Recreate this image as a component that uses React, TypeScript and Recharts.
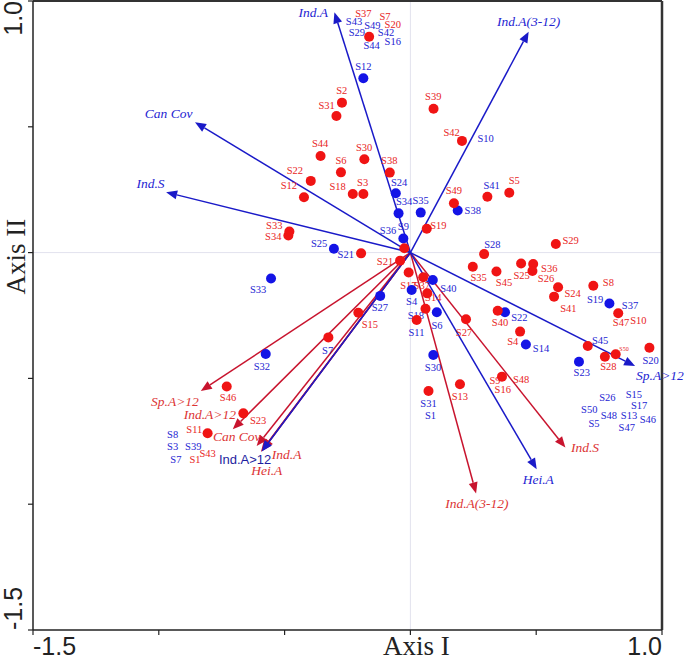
import React from "react";
import { ScatterChart, Scatter, XAxis, YAxis, ReferenceLine } from "recharts";

type Pt = { x: number; y: number };
type Lbl = { t: string; x: number; y: number };

const AXIS_TICKS = [-1.5, -1, -0.5, 0, 0.5, 1];

// biplot vectors (arrow tips, from origin)
const blueVectors: Lbl[] = [
  { t: "Ind.A", x: -0.302, y: 0.955 },
  { t: "Ind.A(3-12)", x: 0.47, y: 0.878 },
  { t: "Can Cov", x: -0.856, y: 0.518 },
  { t: "Ind.S", x: -0.971, y: 0.24 },
  { t: "Sp.A>12", x: 0.893, y: -0.451 },
  { t: "Hei.A", x: 0.502, y: -0.861 },
  { t: "Ind.A>12", x: -0.591, y: -0.791 },
];

const redVectors: Lbl[] = [
  { t: "Sp.A>12", x: -0.833, y: -0.55 },
  { t: "Ind.A>12", x: -0.706, y: -0.702 },
  { t: "Can Cov", x: -0.611, y: -0.769 },
  { t: "Ind.A", x: -0.587, y: -0.785 },
  { t: "Hei.A", x: -0.594, y: -0.792 },
  { t: "Ind.S", x: 0.616, y: -0.775 },
  { t: "Ind.A(3-12)", x: 0.261, y: -0.957 },
];

const blueVectorLabels: Lbl[] = [
  { t: "Ind.A", x: -0.386, y: 0.955 },
  { t: "Ind.A(3-12)", x: 0.47, y: 0.92 },
  { t: "Can Cov", x: -0.961, y: 0.554 },
  { t: "Ind.S", x: -1.033, y: 0.274 },
  { t: "Sp.A>12", x: 0.992, y: -0.486 },
  { t: "Hei.A", x: 0.508, y: -0.9 },
];
const plainBlueLabels: Lbl[] = [{ t: "Ind.A>12", x: -0.657, y: -0.822 }];

const redVectorLabels: Lbl[] = [
  { t: "Sp.A>12", x: -0.936, y: -0.592 },
  { t: "Ind.A>12", x: -0.797, y: -0.641 },
  { t: "Can Cov", x: -0.69, y: -0.732 },
  { t: "Ind.A", x: -0.492, y: -0.8 },
  { t: "Hei.A", x: -0.571, y: -0.864 },
  { t: "Ind.S", x: 0.694, y: -0.774 },
  { t: "Ind.A(3-12)", x: 0.264, y: -0.996 },
];

// site scores
const redSites: Pt[] = [
  { x: -0.164, y: 0.858 }, { x: -0.272, y: 0.596 }, { x: -0.294, y: 0.543 },
  { x: 0.092, y: 0.572 }, { x: 0.205, y: 0.444 }, { x: -0.357, y: 0.384 },
  { x: -0.183, y: 0.371 }, { x: -0.276, y: 0.319 }, { x: -0.082, y: 0.318 },
  { x: -0.396, y: 0.285 }, { x: -0.423, y: 0.22 }, { x: -0.229, y: 0.233 },
  { x: -0.187, y: 0.233 }, { x: -0.481, y: 0.084 }, { x: -0.485, y: 0.068 },
  { x: -0.196, y: -0.003 }, { x: 0.173, y: 0.196 }, { x: 0.306, y: 0.222 },
  { x: 0.393, y: 0.238 }, { x: 0.065, y: 0.095 }, { x: 0.578, y: 0.034 },
  { x: 0.293, y: -0.006 }, { x: 0.248, y: -0.056 }, { x: 0.342, y: -0.075 },
  { x: 0.44, y: -0.043 }, { x: 0.488, y: -0.045 }, { x: 0.485, y: -0.073 },
  { x: 0.587, y: -0.138 }, { x: 0.571, y: -0.175 }, { x: 0.727, y: -0.132 },
  { x: 0.826, y: -0.241 }, { x: 0.705, y: -0.371 }, { x: 0.773, y: -0.414 },
  { x: 0.816, y: -0.404 }, { x: 0.95, y: -0.378 }, { x: -0.024, y: 0.017 },
  { x: -0.041, y: -0.032 }, { x: -0.007, y: -0.079 }, { x: 0.051, y: -0.098 },
  { x: 0.067, y: -0.162 }, { x: 0.06, y: -0.223 }, { x: 0.025, y: -0.268 },
  { x: 0.221, y: -0.265 }, { x: 0.347, y: -0.231 }, { x: 0.436, y: -0.314 },
  { x: -0.207, y: -0.239 }, { x: -0.326, y: -0.337 }, { x: -0.73, y: -0.532 },
  { x: 0.072, y: -0.55 }, { x: 0.197, y: -0.523 }, { x: 0.364, y: -0.493 },
  { x: -0.664, y: -0.639 }, { x: -0.806, y: -0.718 },
];

const blueSites: Pt[] = [
  { x: -0.187, y: 0.693 }, { x: -0.058, y: 0.236 }, { x: -0.047, y: 0.156 },
  { x: 0.041, y: 0.159 }, { x: -0.028, y: 0.056 }, { x: 0.188, y: 0.167 },
  { x: -0.304, y: 0.015 }, { x: -0.554, y: -0.103 }, { x: -0.12, y: -0.172 },
  { x: 0.005, y: -0.149 }, { x: 0.089, y: -0.109 }, { x: 0.105, y: -0.237 },
  { x: 0.376, y: -0.237 }, { x: 0.459, y: -0.365 }, { x: 0.091, y: -0.407 },
  { x: -0.575, y: -0.403 }, { x: 0.791, y: -0.202 }, { x: 0.67, y: -0.434 },
];

const redSiteLabels: Lbl[] = [
  { t: "S37", x: -0.187, y: 0.951 }, { t: "S7", x: -0.101, y: 0.94 },
  { t: "S20", x: -0.07, y: 0.909 }, { t: "S2", x: -0.273, y: 0.646 },
  { t: "S31", x: -0.333, y: 0.587 }, { t: "S39", x: 0.091, y: 0.62 },
  { t: "S42", x: 0.164, y: 0.477 }, { t: "S44", x: -0.359, y: 0.434 },
  { t: "S30", x: -0.184, y: 0.419 }, { t: "S6", x: -0.276, y: 0.368 },
  { t: "S38", x: -0.084, y: 0.365 }, { t: "S22", x: -0.459, y: 0.326 },
  { t: "S12", x: -0.483, y: 0.269 }, { t: "S18", x: -0.289, y: 0.262 },
  { t: "S3", x: -0.19, y: 0.279 }, { t: "S5", x: 0.413, y: 0.289 },
  { t: "S49", x: 0.173, y: 0.249 }, { t: "S33", x: -0.541, y: 0.11 },
  { t: "S34", x: -0.545, y: 0.066 }, { t: "S19", x: 0.111, y: 0.109 },
  { t: "S29", x: 0.637, y: 0.047 }, { t: "S21", x: -0.101, y: -0.035 },
  { t: "S35", x: 0.271, y: -0.099 }, { t: "S45", x: 0.372, y: -0.12 },
  { t: "S25", x: 0.442, y: -0.089 }, { t: "S36", x: 0.552, y: -0.062 },
  { t: "S26", x: 0.539, y: -0.102 }, { t: "S8", x: 0.787, y: -0.118 },
  { t: "S24", x: 0.645, y: -0.162 }, { t: "S41", x: 0.628, y: -0.221 },
  { t: "S47", x: 0.837, y: -0.279 }, { t: "S10", x: 0.906, y: -0.268 },
  { t: "S28", x: 0.787, y: -0.451 }, { t: "S17", x: -0.008, y: -0.129 },
  { t: "S37", x: 0.045, y: -0.132 }, { t: "S14", x: 0.091, y: -0.178 },
  { t: "S15", x: -0.161, y: -0.285 }, { t: "S27", x: 0.213, y: -0.317 },
  { t: "S40", x: 0.356, y: -0.279 }, { t: "S4", x: 0.407, y: -0.354 },
  { t: "S9", x: 0.336, y: -0.506 }, { t: "S48", x: 0.44, y: -0.504 },
  { t: "S16", x: 0.367, y: -0.542 }, { t: "S13", x: 0.197, y: -0.572 },
  { t: "S46", x: -0.725, y: -0.574 }, { t: "S23", x: -0.605, y: -0.665 },
  { t: "S11", x: -0.859, y: -0.702 }, { t: "S43", x: -0.806, y: -0.798 },
  { t: "S1", x: -0.856, y: -0.822 },
];
const tinyRedLabels: Lbl[] = [{ t: "S50", x: 0.849, y: -0.384 }];

const blueSiteLabels: Lbl[] = [
  { t: "S43", x: -0.224, y: 0.918 }, { t: "S49", x: -0.151, y: 0.905 },
  { t: "S29", x: -0.213, y: 0.874 }, { t: "S42", x: -0.097, y: 0.876 },
  { t: "S44", x: -0.154, y: 0.825 }, { t: "S16", x: -0.07, y: 0.838 },
  { t: "S12", x: -0.187, y: 0.739 }, { t: "S10", x: 0.299, y: 0.454 },
  { t: "S41", x: 0.323, y: 0.269 }, { t: "S24", x: -0.045, y: 0.278 },
  { t: "S34", x: -0.025, y: 0.205 }, { t: "S35", x: 0.041, y: 0.206 },
  { t: "S38", x: 0.248, y: 0.169 }, { t: "S36", x: -0.089, y: 0.09 },
  { t: "S9", x: -0.028, y: 0.103 }, { t: "S28", x: 0.326, y: 0.034 },
  { t: "S25", x: -0.363, y: 0.037 }, { t: "S21", x: -0.257, y: -0.007 },
  { t: "S33", x: -0.605, y: -0.147 }, { t: "S40", x: 0.151, y: -0.142 },
  { t: "S4", x: 0.005, y: -0.194 }, { t: "S27", x: -0.121, y: -0.217 },
  { t: "S18", x: 0.022, y: -0.249 }, { t: "S6", x: 0.106, y: -0.288 },
  { t: "S11", x: 0.024, y: -0.316 }, { t: "S22", x: 0.433, y: -0.257 },
  { t: "S14", x: 0.519, y: -0.382 }, { t: "S7", x: -0.329, y: -0.387 },
  { t: "S32", x: -0.59, y: -0.453 }, { t: "S30", x: 0.09, y: -0.457 },
  { t: "S31", x: 0.072, y: -0.6 }, { t: "S1", x: 0.08, y: -0.647 },
  { t: "S19", x: 0.734, y: -0.186 }, { t: "S37", x: 0.873, y: -0.208 },
  { t: "S45", x: 0.754, y: -0.347 }, { t: "S20", x: 0.955, y: -0.427 },
  { t: "S23", x: 0.681, y: -0.477 }, { t: "S26", x: 0.783, y: -0.574 },
  { t: "S15", x: 0.888, y: -0.563 }, { t: "S50", x: 0.711, y: -0.622 },
  { t: "S17", x: 0.909, y: -0.606 }, { t: "S48", x: 0.789, y: -0.647 },
  { t: "S13", x: 0.869, y: -0.648 }, { t: "S46", x: 0.944, y: -0.661 },
  { t: "S5", x: 0.73, y: -0.68 }, { t: "S47", x: 0.86, y: -0.696 },
  { t: "S8", x: -0.945, y: -0.721 }, { t: "S3", x: -0.945, y: -0.769 },
  { t: "S39", x: -0.863, y: -0.769 }, { t: "S7", x: -0.932, y: -0.822 },
];

const RED_DOT = "#f01414";
const BLUE_DOT = "#1414e6";
const RED_TXT = "#e82424";
const BLUE_TXT = "#2424d2";
const RED_LINE = "#c8142e";
const BLUE_LINE = "#1a1ac8";
const SERIF = "'Liberation Serif', 'Times New Roman', serif";
const SANS = "'Liberation Sans', Arial, sans-serif";

const textShape = (fill: string, size: number, family: string, italic = false) =>
  (p: any) => (
    <text
      x={p.cx}
      y={p.cy}
      dy="0.35em"
      textAnchor="middle"
      fill={fill}
      fontSize={size}
      fontFamily={family}
      fontStyle={italic ? "italic" : "normal"}
    >
      {p.payload.t}
    </text>
  );

const dotShape = (fill: string) => (p: any) => <circle cx={p.cx} cy={p.cy} r={5} fill={fill} />;

const arrowShape = (color: string) => (p: any) => {
  const { x1, y1, x2, y2 } = p;
  const a = Math.atan2(y2 - y1, x2 - x1);
  const len = 11;
  const half = 4.5;
  const bx = x2 - len * Math.cos(a);
  const by = y2 - len * Math.sin(a);
  const s = Math.sin(a);
  const c = Math.cos(a);
  const pts = `${x2},${y2} ${bx + half * s},${by - half * c} ${bx - half * s},${by + half * c}`;
  return (
    <g>
      <line x1={x1} y1={y1} x2={bx} y2={by} stroke={color} strokeWidth={1.5} />
      <polygon points={pts} fill={color} />
    </g>
  );
};

// only the end values carry numbers; the title sits at the origin tick
const renderXTick = (p: any) => {
  const v = p.payload.value;
  if (v === -1.5)
    return <text x={p.x} y={655} textAnchor="start" fontSize={25} fontFamily={SANS} fill="#222">-1.5</text>;
  if (v === 1)
    return <text x={p.x} y={655} textAnchor="end" fontSize={25} fontFamily={SANS} fill="#222">1.0</text>;
  if (v === 0)
    return <text x={p.x + 6} y={655} textAnchor="middle" fontSize={27} fontFamily={SERIF} fill="#222">Axis I</text>;
  return <g />;
};

const renderYTick = (p: any) => {
  const v = p.payload.value;
  if (v === 1)
    return (
      <text transform={`translate(22,${p.y}) rotate(-90)`} textAnchor="end" fontSize={25} fontFamily={SANS} fill="#222">1.0</text>
    );
  if (v === -1.5)
    return (
      <text transform={`translate(22,${p.y}) rotate(-90)`} textAnchor="start" fontSize={25} fontFamily={SANS} fill="#222">-1.5</text>
    );
  if (v === 0)
    return (
      <text transform={`translate(25,${p.y + 4}) rotate(-90)`} textAnchor="middle" fontSize={27} fontFamily={SERIF} fill="#222">Axis II</text>
    );
  return <g />;
};

export default function App() {
  return (
    <div style={{ position: "absolute", left: 0, top: 0, background: "#fff" }}>
      <ScatterChart width={685} height={661} margin={{ top: 1, right: 23, bottom: 0, left: 0 }}>
        <XAxis
          type="number"
          dataKey="x"
          domain={[-1.5, 1]}
          ticks={AXIS_TICKS}
          interval={0}
          height={31}
          tick={renderXTick}
          tickSize={5}
          tickLine={{ stroke: "#222", strokeWidth: 1.2 }}
          axisLine={{ stroke: "#222", strokeWidth: 1.5 }}
        />
        <YAxis
          type="number"
          dataKey="y"
          domain={[-1.5, 1]}
          ticks={AXIS_TICKS}
          interval={0}
          width={33}
          tick={renderYTick}
          tickSize={5}
          tickLine={{ stroke: "#222", strokeWidth: 1.2 }}
          axisLine={{ stroke: "#222", strokeWidth: 1.5 }}
        />
        <ReferenceLine x={0} stroke="#e2e2ee" strokeWidth={1} />
        <ReferenceLine y={0} stroke="#e2e2ee" strokeWidth={1} />
        <ReferenceLine y={1} stroke="#333" strokeWidth={2} />
        <ReferenceLine x={1} stroke="#333" strokeWidth={2.5} />

        <Scatter data={redSiteLabels} shape={textShape(RED_TXT, 10.5, SERIF)} isAnimationActive={false} />
        <Scatter data={tinyRedLabels} shape={textShape(RED_TXT, 6, SERIF)} isAnimationActive={false} />
        <Scatter data={blueSiteLabels} shape={textShape(BLUE_TXT, 10.5, SERIF)} isAnimationActive={false} />
        <Scatter data={blueVectorLabels} shape={textShape(BLUE_TXT, 13.5, SERIF, true)} isAnimationActive={false} />
        <Scatter data={redVectorLabels} shape={textShape("#dc3434", 13.5, SERIF, true)} isAnimationActive={false} />
        <Scatter data={plainBlueLabels} shape={textShape("#1e1ea0", 13, SANS)} isAnimationActive={false} />

        {redVectors.map((v) => (
          <ReferenceLine
            key={"r" + v.t}
            segment={[{ x: 0, y: 0 }, { x: v.x, y: v.y }]}
            stroke={RED_LINE}
            shape={arrowShape(RED_LINE)}
          />
        ))}
        {blueVectors.map((v) => (
          <ReferenceLine
            key={"b" + v.t}
            segment={[{ x: 0, y: 0 }, { x: v.x, y: v.y }]}
            stroke={BLUE_LINE}
            shape={arrowShape(BLUE_LINE)}
          />
        ))}

        <Scatter data={blueSites} shape={dotShape(BLUE_DOT)} isAnimationActive={false} />
        <Scatter data={redSites} shape={dotShape(RED_DOT)} isAnimationActive={false} />
      </ScatterChart>
    </div>
  );
}
